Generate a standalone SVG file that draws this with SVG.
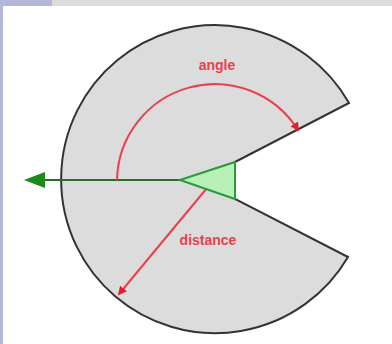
<svg xmlns="http://www.w3.org/2000/svg" width="392" height="344" viewBox="0 0 392 344">
<style>
.lbl{font-family:"Liberation Sans",Arial,sans-serif;font-size:14px;font-weight:bold;fill:#e8404e;text-anchor:middle}
.red{fill:none;stroke:#e8404e;stroke-width:2}
</style>
<defs>
<marker id="ra" viewBox="0 0 10 10" refX="8" refY="5" markerWidth="4.5" markerHeight="4.5" orient="auto" markerUnits="strokeWidth"><path d="M0,0 L10,5 L0,10 z" fill="#e02030"/></marker>
</defs>
<rect width="392" height="344" fill="#ffffff"/>
<rect x="0" y="0" width="52" height="6" fill="#b4b8d8"/>
<rect x="0" y="0" width="3" height="344" fill="#b4b8d8"/>
<rect x="52" y="0" width="340" height="6" fill="#dcdcdc"/>
<g id="sector">
<path d="M235,162 L349,103 A154,154 0 1,0 348,257 L235,199 Z" fill="#dcdcdc" stroke="#333333" stroke-width="2"/>
</g>
<g id="connectors">
<line x1="180" y1="180" x2="40" y2="180" stroke="#2a6a2a" stroke-width="2"/>
<path d="M45,172 L24,180 L45,188 Z" fill="#1a8a1a"/>
<path class="red" d="M117,180 A98,98 0 0,1 298,130" marker-end="url(#ra)"/>
<line class="red" x1="212" y1="182" x2="119" y2="294" marker-end="url(#ra)"/>
</g>
<g id="robot">
<path d="M180,180 L235,162 L235,199 Z" fill="#b8f0b8" stroke="#2a9a3a" stroke-width="2"/>
</g>
<g id="labels">
<text class="lbl" x="217" y="70">angle</text>
<text class="lbl" x="208" y="245">distance</text>
</g>
</svg>
